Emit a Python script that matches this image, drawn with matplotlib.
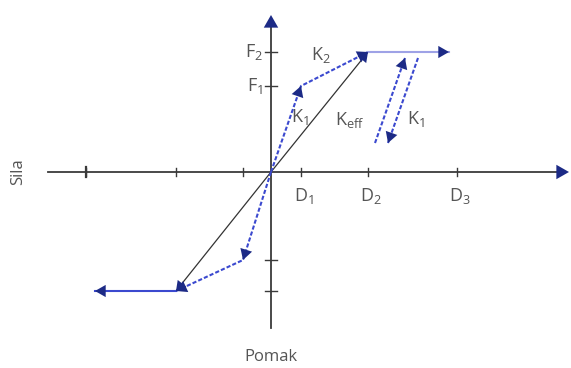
"""
Bilinear force-displacement hysteresis sketch (Sila / Pomak)
"""

import matplotlib.pyplot as plt

plt.rcParams["font.family"] = ["Open Sans", "DejaVu Sans"]
plt.rcParams["mathtext.fontset"] = "custom"
plt.rcParams["mathtext.rm"] = "Open Sans"
plt.rcParams["mathtext.it"] = "Open Sans"

# axis ticks (displacement / force)
d_ticks = [30, 97, 186]
d_labels = [r"$\mathrm{D_1}$", r"$\mathrm{D_2}$", r"$\mathrm{D_3}$"]
d_ticks_neg = [-28, -95, -185]
f_ticks = [86, 120]
f_labels = [r"$\mathrm{F_1}$", r"$\mathrm{F_2}$"]
f_ticks_neg = [-88, -119]

# bilinear backbone, positive and negative branches
pos_disp = [0, 30, 97]
pos_force = [0, 86, 120]
pos_plateau_disp = [97, 178]
neg_disp = [0, -28, -95]
neg_force = [0, -88, -119]
neg_plateau_disp = [-95, -176]

# unloading / reloading branches (slope K1)
reload_disp = [104, 134]
reload_force = [29, 114]
unload_disp = [147, 117]
unload_force = [114, 29]

# effective stiffness secant
keff_disp = [-95, 0, 97]
keff_force = [-119, 0, 120]

BLUE = "#3b49cf"
NAVY = "#1c2a86"
LIGHT = "#9ea2e6"
AXIS = "#3a3a3a"
TEXT = "#555555"


def arrow_head(ax, x0, y0, x1, y1, size=11):
    """draws a filled arrow head at (x1, y1) pointing away from (x0, y0)"""
    ax.annotate(
        "",
        xy=(x1, y1),
        xytext=(x1 - (x1 - x0) * 0.02, y1 - (y1 - y0) * 0.02),
        arrowprops=dict(arrowstyle="-|>,head_width=0.4,head_length=0.7",
                        color=NAVY, mutation_scale=size, lw=0),
    )


fig = plt.figure(figsize=(5.71, 3.68), dpi=100)
ax = fig.add_axes([0, 0, 1, 1])
ax.set_xlim(-271, 300)
ax.set_ylim(-196, 172)
ax.axis("off")

# axes
ax.plot([-223, 292], [0, 0], color=AXIS, lw=1.3)
ax.plot([0, 0], [-156, 150], color=AXIS, lw=1.3)
arrow_head(ax, 0, 140, 0, 157, size=13)
arrow_head(ax, 280, 0, 298, 0, size=13)

for x in d_ticks + d_ticks_neg:
    ax.plot([x, x], [-4, 4], color=AXIS, lw=1.0)
ax.plot([-185, -185], [-5, 5], color=AXIS, lw=1.6)
for y in f_ticks + f_ticks_neg:
    ax.plot([-6, 6], [y, y], color=AXIS, lw=1.0)

for x, lab in zip(d_ticks, d_labels):
    ax.text(x + 3, -14, lab, fontsize=13, color=TEXT, ha="center", va="top")
for y, lab in zip(f_ticks, f_labels):
    ax.text(-8, y, lab, fontsize=13, color=TEXT, ha="right", va="center")

# secant
ax.plot(keff_disp, keff_force, color="#333333", lw=0.9)
arrow_head(ax, 0, 0, 97, 120, size=10)
arrow_head(ax, 0, 0, -95, -119, size=10)

# backbone
ax.plot(pos_disp, pos_force, color=BLUE, lw=1.5, ls=(0, (2, 1)))
ax.plot(neg_disp, neg_force, color=BLUE, lw=1.5, ls=(0, (2, 1)))
arrow_head(ax, 0, 0, pos_disp[1], pos_force[1])
arrow_head(ax, 0, 0, neg_disp[1], neg_force[1])
arrow_head(ax, pos_disp[1], pos_force[1], pos_disp[2], pos_force[2])
arrow_head(ax, neg_disp[1], neg_force[1], neg_disp[2], neg_force[2])

ax.plot(pos_plateau_disp, [pos_force[2]] * 2, color=LIGHT, lw=1.5)
arrow_head(ax, 97, 120, pos_plateau_disp[1], pos_force[2])
ax.plot(neg_plateau_disp, [neg_force[2]] * 2, color=BLUE, lw=1.5)
arrow_head(ax, -95, -119, neg_plateau_disp[1], neg_force[2])

# unloading / reloading
ax.plot(reload_disp, reload_force, color=BLUE, lw=1.5, ls=(0, (2, 1)))
arrow_head(ax, reload_disp[0], reload_force[0], reload_disp[1], reload_force[1])
ax.plot(unload_disp, unload_force, color=BLUE, lw=1.5, ls=(0, (2, 1)))
arrow_head(ax, unload_disp[0], unload_force[0], unload_disp[1], unload_force[1])

# stiffness labels
ax.text(40, 112, r"$\mathrm{K_2}$", fontsize=13, color=TEXT)
ax.text(20, 50, r"$\mathrm{K_1}$", fontsize=13, color=TEXT)
ax.text(64, 47, r"$\mathrm{K_{eff}}$", fontsize=13, color=TEXT)
ax.text(136, 48, r"$\mathrm{K_1}$", fontsize=13, color=TEXT)

# axis titles
ax.text(-253, 0, "Sila", fontsize=12, color=TEXT, rotation=90, ha="center", va="center")
ax.text(0, -185, "Pomak", fontsize=12, color=TEXT, ha="center", va="center")

fig.savefig("out.png", dpi=100)
